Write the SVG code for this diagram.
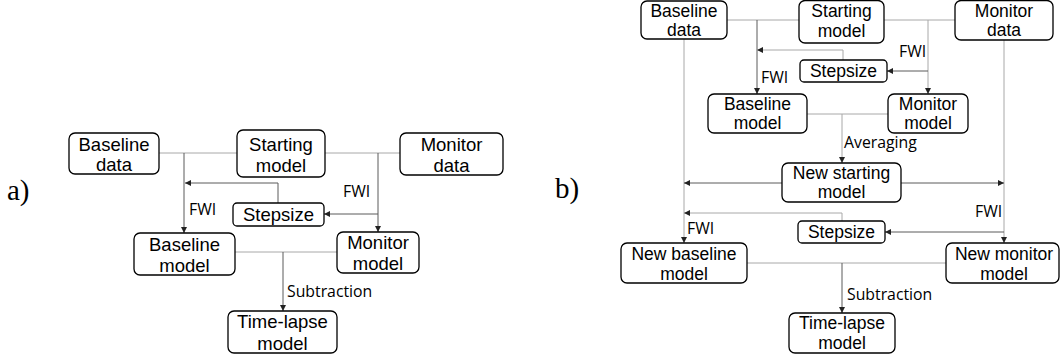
<svg xmlns="http://www.w3.org/2000/svg" width="1060" height="362" viewBox="0 0 1060 362">
<style>
.box{fill:#fff;stroke:#000;stroke-width:1.3}
.t{font-family:"Liberation Sans",Arial,sans-serif;font-size:18.5px;text-anchor:middle;fill:#000}
.tb{font-family:"Liberation Sans",Arial,sans-serif;font-size:17.5px;text-anchor:middle;fill:#000}
.el{font-family:"Open Sans","DejaVu Sans",sans-serif;font-size:15.8px;fill:#000}
.pl{font-family:"Liberation Serif","Times New Roman",serif;font-size:29px;fill:#000}
.c{fill:none;stroke-width:1}
.lt{stroke:#a8a8a8}
.dk{stroke:#5a5a5a}
</style>
<defs>
<marker id="ah" markerUnits="userSpaceOnUse" markerWidth="7" markerHeight="6" refX="6" refY="3" orient="auto">
<path d="M0,0 L6,3 L0,6 z" fill="#222"/>
</marker>
</defs>
<text class="pl" x="7" y="200">a)</text>
<text class="pl" x="555" y="198">b)</text>
<g id="connectors">
<path class="c lt" d="M159,153 H237"/>
<path class="c lt" d="M325,153 H400"/>
<path class="c dk" d="M184,153 V233" marker-end="url(#ah)"/>
<path class="c dk" d="M278,203 V183 H185" marker-end="url(#ah)"/>
<path class="c dk" d="M378,153 V232" marker-end="url(#ah)"/>
<path class="c dk" d="M378,214 H324" marker-end="url(#ah)"/>
<path class="c lt" d="M235,252 H337"/>
<path class="c dk" d="M283,252 V311" marker-end="url(#ah)"/>
<path class="c lt" d="M727,20 H799"/>
<path class="c lt" d="M884,20 H955"/>
<path class="c dk" d="M757,20 V94" marker-end="url(#ah)"/>
<path class="c lt" d="M843,60 V50 H757" marker-end="url(#ah)"/>
<path class="c lt" d="M928,20 V94" marker-end="url(#ah)"/>
<path class="c dk" d="M928,71 H887" marker-end="url(#ah)"/>
<path class="c lt" d="M807,114 H888"/>
<path class="c lt" d="M842,114 V163" marker-end="url(#ah)"/>
<path class="c lt" d="M684,39 V243" marker-end="url(#ah)"/>
<path class="c lt" d="M1004,40 V243" marker-end="url(#ah)"/>
<path class="c dk" d="M782,183 H684" marker-end="url(#ah)"/>
<path class="c dk" d="M901,183 H1004" marker-end="url(#ah)"/>
<path class="c lt" d="M842,221 V213 H684" marker-end="url(#ah)"/>
<path class="c dk" d="M1004,232 H885" marker-end="url(#ah)"/>
<path class="c lt" d="M747,263 H946"/>
<path class="c dk" d="M842,263 V313" marker-end="url(#ah)"/>
<text class="el" x="189" y="215">FWI</text>
<text class="el" x="343" y="197">FWI</text>
<text class="el" x="287" y="297">Subtraction</text>
<text class="el" x="899" y="57">FWI</text>
<text class="el" x="761" y="83">FWI</text>
<text class="el" x="844" y="148">Averaging</text>
<text class="el" x="975" y="217">FWI</text>
<text class="el" x="687" y="234">FWI</text>
<text class="el" x="847" y="300">Subtraction</text>
</g>
<g id="a-baseline-data"><rect class="box" x="69" y="133" width="90" height="41" rx="6"/><text class="t" x="114" y="151">Baseline</text><text class="t" x="114" y="171">data</text></g>
<g id="a-starting-model"><rect class="box" x="237" y="130" width="88" height="47" rx="6"/><text class="t" x="281" y="151">Starting</text><text class="t" x="281" y="172">model</text></g>
<g id="a-monitor-data"><rect class="box" x="400" y="133" width="103" height="42" rx="6"/><text class="t" x="451.5" y="151">Monitor</text><text class="t" x="451.5" y="172">data</text></g>
<g id="a-stepsize"><rect class="box" x="233" y="203" width="91" height="23" rx="4"/><text class="t" x="278.5" y="221">Stepsize</text></g>
<g id="a-baseline-model"><rect class="box" x="134" y="233" width="101" height="42" rx="6"/><text class="t" x="184.5" y="251">Baseline</text><text class="t" x="184.5" y="272">model</text></g>
<g id="a-monitor-model"><rect class="box" x="337" y="232" width="82" height="41" rx="6"/><text class="t" x="378" y="249">Monitor</text><text class="t" x="378" y="270">model</text></g>
<g id="a-timelapse-model"><rect class="box" x="228" y="311" width="109" height="42" rx="6"/><text class="t" x="282.5" y="328">Time-lapse</text><text class="t" x="282.5" y="350">model</text></g>
<g id="b-baseline-data"><rect class="box" x="641" y="1" width="86" height="38" rx="6"/><text class="tb" x="684" y="17">Baseline</text><text class="tb" x="684" y="36">data</text></g>
<g id="b-starting-model"><rect class="box" x="799" y="0.5" width="85" height="42.5" rx="6"/><text class="tb" x="841.5" y="17">Starting</text><text class="tb" x="841.5" y="37">model</text></g>
<g id="b-monitor-data"><rect class="box" x="955" y="0.5" width="98" height="39.5" rx="6"/><text class="tb" x="1004" y="17">Monitor</text><text class="tb" x="1004" y="36">data</text></g>
<g id="b-stepsize-1"><rect class="box" x="800" y="60" width="87" height="22" rx="4"/><text class="tb" x="843.5" y="77">Stepsize</text></g>
<g id="b-baseline-model"><rect class="box" x="708" y="94" width="99" height="39" rx="6"/><text class="tb" x="757.5" y="110">Baseline</text><text class="tb" x="757.5" y="129">model</text></g>
<g id="b-monitor-model"><rect class="box" x="888" y="94" width="80" height="39" rx="6"/><text class="tb" x="928" y="110">Monitor</text><text class="tb" x="928" y="129">model</text></g>
<g id="b-new-starting-model"><rect class="box" x="782" y="163" width="119" height="39" rx="6"/><text class="tb" x="841.5" y="179">New starting</text><text class="tb" x="841.5" y="198">model</text></g>
<g id="b-stepsize-2"><rect class="box" x="798" y="221" width="87" height="22" rx="4"/><text class="tb" x="841.5" y="238">Stepsize</text></g>
<g id="b-new-baseline-model"><rect class="box" x="621" y="243" width="126" height="40" rx="6"/><text class="tb" x="684" y="260">New baseline</text><text class="tb" x="684" y="280">model</text></g>
<g id="b-new-monitor-model"><rect class="box" x="946" y="243" width="113" height="40" rx="6"/><text class="tb" x="1004" y="260">New monitor</text><text class="tb" x="1004" y="280">model</text></g>
<g id="b-timelapse-model"><rect class="box" x="789" y="313" width="106" height="40" rx="6"/><text class="tb" x="842" y="329">Time-lapse</text><text class="tb" x="842" y="349">model</text></g>
</svg>
